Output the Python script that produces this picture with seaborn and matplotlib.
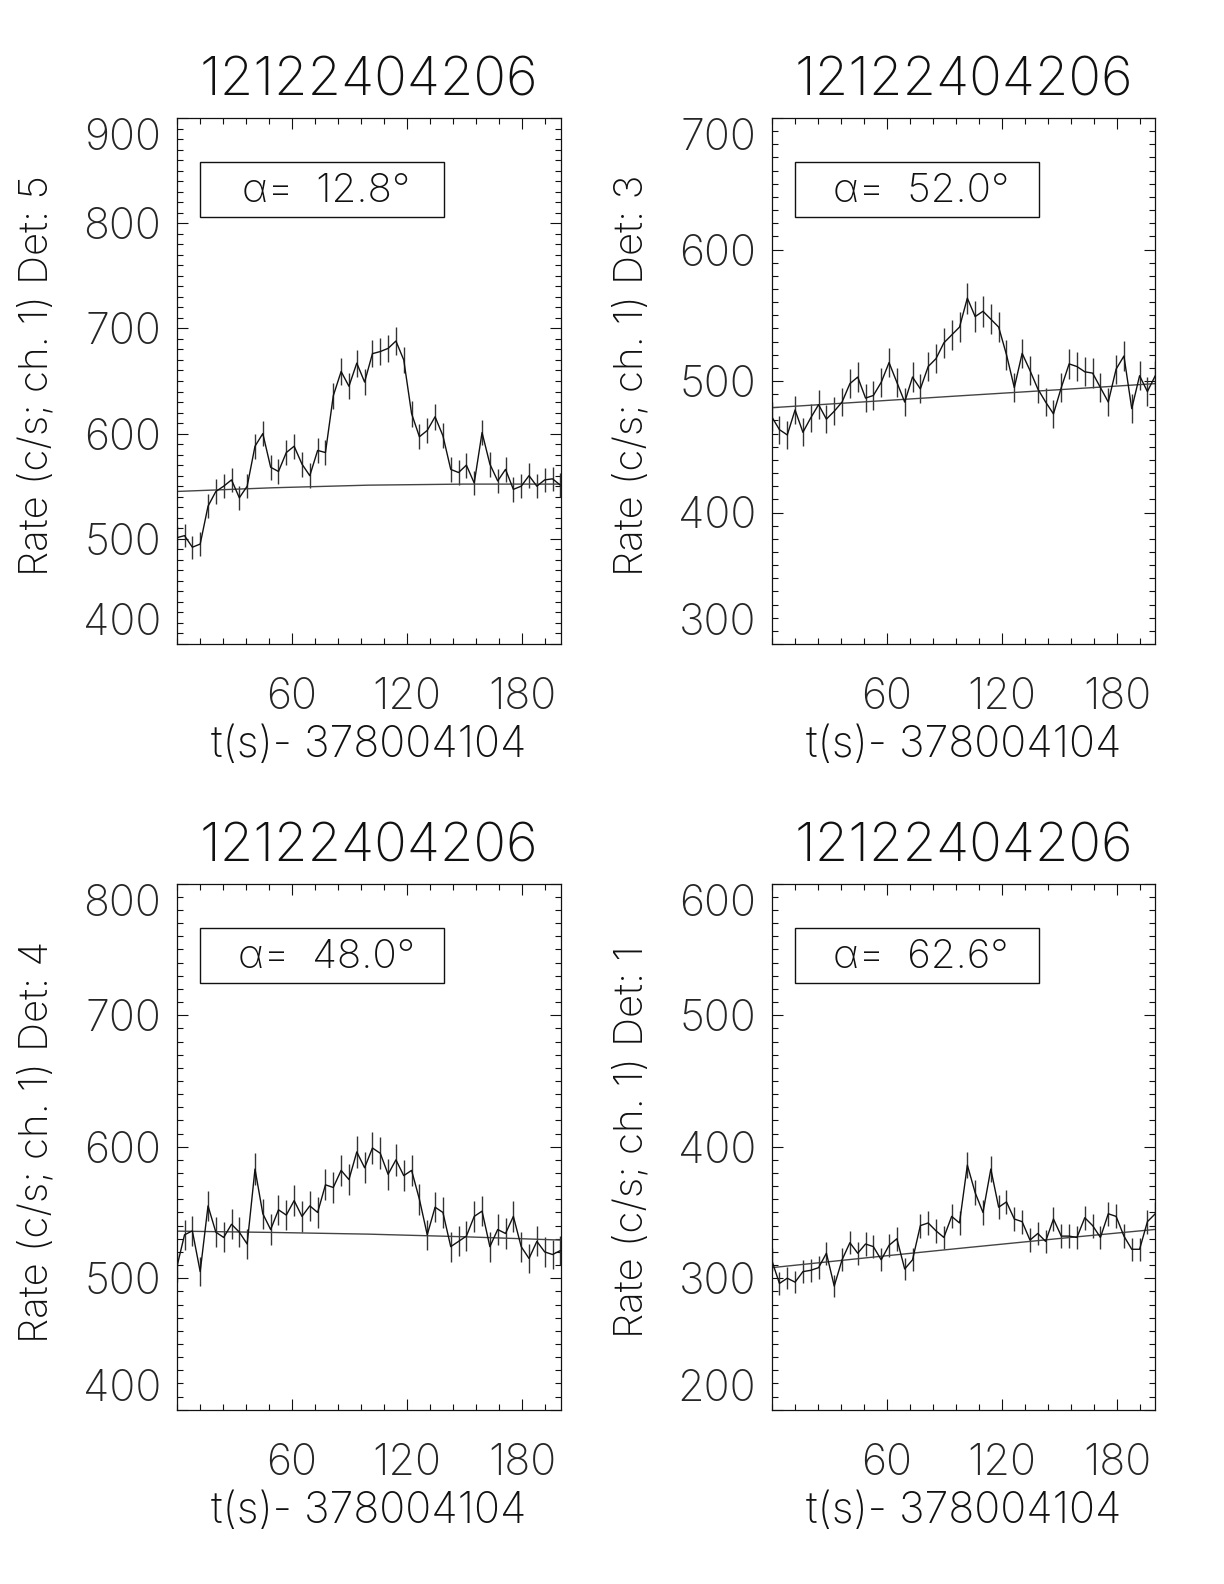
import matplotlib
matplotlib.use("Agg")
import numpy as np
import pandas as pd
import matplotlib.pyplot as plt
import seaborn as sns
from matplotlib.ticker import FixedLocator, MultipleLocator
from matplotlib.patches import Rectangle

sns.set_style("ticks")
plt.rcParams["font.family"] = ["Inter", "Open Sans", "DejaVu Sans"]
plt.rcParams["font.weight"] = 200

# ---------------- data ----------------
burst_name = "12122404206"
t0_label = "t(s)- 378004104"
bin_dt = 4.08
n_bins = 50

detectors = ["5", "3", "4", "1"]
angles = ["12.8", "52.0", "48.0", "62.6"]
y_ranges = [(400, 900), (300, 700), (400, 800), (200, 600)]

rate_det5 = [501, 503, 492, 495, 531, 545, 550, 556, 539, 550,
             588, 600, 568, 564, 582, 588, 571, 560, 584, 582,
             636, 659, 645, 667, 649, 676, 678, 681, 688, 670,
             619, 597, 603, 616, 598, 566, 563, 570, 553, 601,
             571, 555, 566, 547, 550, 560, 550, 556, 557, 551]
rate_det3 = [473, 463, 459, 478, 461, 472, 482, 471, 477, 484,
             498, 503, 487, 489, 499, 514, 499, 484, 503, 494,
             511, 517, 529, 535, 541, 563, 549, 553, 547, 541,
             520, 495, 521, 508, 494, 484, 475, 495, 513, 511,
             507, 506, 495, 484, 509, 519, 479, 504, 492, 504]
rate_det4 = [508, 533, 536, 505, 555, 535, 531, 541, 535, 526,
             583, 549, 537, 552, 548, 559, 547, 555, 550, 571,
             569, 582, 575, 596, 584, 599, 595, 579, 590, 578,
             582, 560, 533, 554, 550, 524, 528, 532, 547, 551,
             524, 537, 534, 547, 524, 515, 528, 520, 518, 521]
rate_det1 = [314, 296, 300, 297, 305, 306, 308, 319, 294, 314,
             327, 319, 326, 324, 314, 325, 330, 307, 314, 340,
             342, 336, 331, 347, 342, 386, 365, 350, 383, 354,
             358, 345, 343, 329, 334, 328, 345, 332, 332, 331,
             346, 340, 331, 349, 347, 332, 322, 322, 343, 349]
rates = [rate_det5, rate_det3, rate_det4, rate_det1]

# background fit curves, sampled at a few times
fit_t = [0, 50, 100, 150, 200]
fit_det5 = [545, 548.5, 551, 552, 552]
fit_det3 = [479.7, 484.3, 488.9, 493.4, 498.0]
fit_det4 = [535.8, 534.8, 533.5, 531.5, 529.0]
fit_det1 = [308.0, 315.6, 323.0, 330.2, 337.1]
fits = [fit_det5, fit_det3, fit_det4, fit_det1]

x_major = [60, 120, 180]

# ---------------- layout ----------------
W, H = 1224, 1584
fig = plt.figure(figsize=(W / 100, H / 100), dpi=100)
lefts = [176.7, 771.6, 176.7, 771.6]
tops = [118, 118, 883.7, 883.7]
aw, ah = 383.8, 526

t = np.arange(n_bins) * bin_dt
ink = "#111111"

for k in range(4):
    ax = fig.add_axes([lefts[k] / W, 1 - (tops[k] + ah) / H, aw / W, ah / H])
    r = np.asarray(rates[k], float)
    err = np.sqrt(r / 4.096)
    df = pd.DataFrame({"t": t, "rate": r})
    dff = pd.DataFrame({"t": fit_t, "fit": fits[k]})

    ax.vlines(t, r - err, r + err, color="#333333", lw=1.0, zorder=2)
    sns.lineplot(data=df, x="t", y="rate", ax=ax, color=ink, lw=1.0,
                 estimator=None, zorder=3)
    sns.lineplot(data=dff, x="t", y="fit", ax=ax, color="#444444", lw=1.0,
                 estimator=None, zorder=2)

    ymin, ymax = y_ranges[k]
    ax.set_xlim(0, 200)
    ax.set_ylim(ymin, ymax)
    ax.xaxis.set_major_locator(FixedLocator(x_major))
    ax.xaxis.set_minor_locator(MultipleLocator(12))
    ax.yaxis.set_major_locator(FixedLocator(list(range(ymin, ymax + 1, 100))))
    ax.yaxis.set_minor_locator(MultipleLocator(10))
    ax.tick_params(which="both", direction="in", top=True, right=True,
                   color=ink, width=0.8)
    ax.tick_params(which="major", length=8)
    ax.tick_params(which="minor", length=4)
    ax.tick_params(axis="y", which="major", pad=11, labelsize=31)
    ax.tick_params(axis="x", which="major", pad=24, labelsize=31)
    for sp in ax.spines.values():
        sp.set_color(ink)
        sp.set_linewidth(0.9)
    ax.set_xlabel("")
    ax.set_ylabel("")
    locs = ax.yaxis.get_majorticklocs()
    ticks = ax.yaxis.get_major_ticks(len(locs))
    for loc, tk in zip(locs, ticks):
        if loc == ymin:
            tk.label1.set_verticalalignment("bottom")
        elif loc == ymax:
            tk.label1.set_verticalalignment("top")

    ax.text(0.5, 1.042, burst_name, transform=ax.transAxes, ha="center",
            va="baseline", fontsize=39, color=ink)
    ax.text(0.5, -0.215, t0_label, transform=ax.transAxes, ha="center",
            va="baseline", fontsize=31, color=ink)
    ax.text(-0.365, 0.51, f"Rate (c/s; ch. 1) Det: {detectors[k]}",
            transform=ax.transAxes, rotation=90, ha="center", va="center",
            fontsize=29, color=ink)
    ax.add_patch(Rectangle((0.0607, 0.8118), 0.636, 0.1045,
                           transform=ax.transAxes, fill=False,
                           edgecolor=ink, lw=1.0, zorder=4))
    ax.text(0.39, 0.840, f"α=  {angles[k]}°", transform=ax.transAxes,
            ha="center", va="baseline", fontsize=29, color=ink)

fig.savefig("out.png", dpi=100, facecolor="white")
